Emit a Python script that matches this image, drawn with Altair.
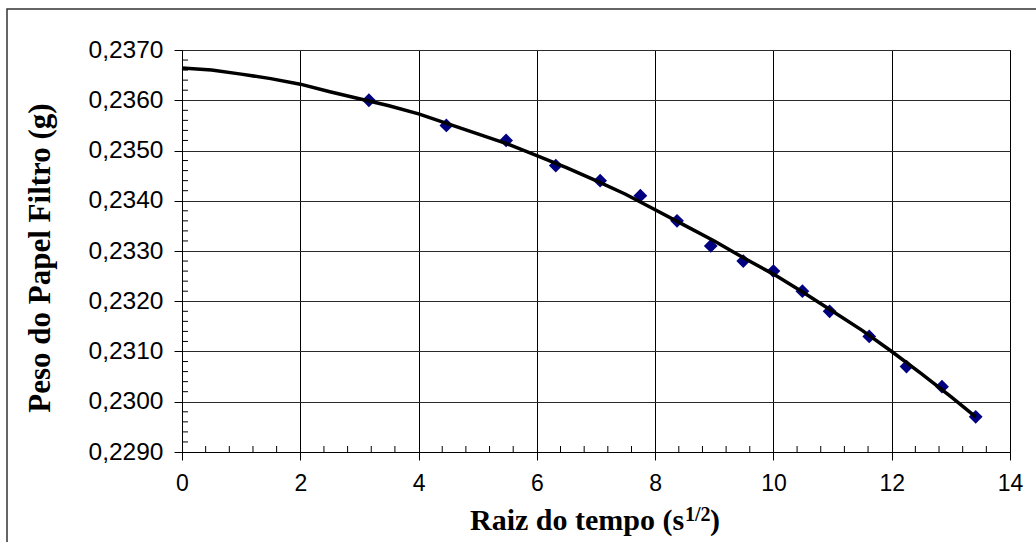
import altair as alt
import pandas as pd

# Measured filter-paper weight against square root of time
raiz_tempo = [3.16, 4.47, 5.48, 6.32, 7.07, 7.75, 8.37, 8.94, 9.49, 10.00,
              10.49, 10.95, 11.62, 12.25, 12.85, 13.42]
peso = [0.2360, 0.2355, 0.2352, 0.2347, 0.2344, 0.2341, 0.2336, 0.2331, 0.2328,
        0.2326, 0.2322, 0.2318, 0.2313, 0.2307, 0.2303, 0.2297]

# Fitted curve through the measurements
curva_x = [0, 0.5, 1, 1.5, 2, 2.5, 3, 3.5, 4, 4.5, 5, 5.5, 6, 6.5, 7, 7.5, 8,
           8.5, 9, 9.5, 10, 10.5, 11, 11.5, 12, 12.5, 13, 13.42]
curva_y = [0.23664, 0.23660, 0.23652, 0.23643, 0.23632, 0.23617, 0.23603,
           0.23589, 0.23573, 0.23553, 0.23533, 0.23513, 0.23490, 0.23466,
           0.23440, 0.23413, 0.23382, 0.23351, 0.23320, 0.23286, 0.23254,
           0.23218, 0.23180, 0.23142, 0.23100, 0.23056, 0.23010, 0.22970]

# Axis ticks
x_major = [0, 2, 4, 6, 8, 10, 12, 14]
y_major = [0.229, 0.230, 0.231, 0.232, 0.233, 0.234, 0.235, 0.236, 0.237]
x_minor = [round(i * 0.4, 1) for i in range(36) if i % 5]
y_minor = [round(0.229 + i * 0.0002, 4) for i in range(41) if i % 5]

W, H = 828, 402
LEFT, TOP = 182, 50

pontos = pd.DataFrame({"x": raiz_tempo, "y": peso})
curva = pd.DataFrame({"x": curva_x, "y": curva_y})
one = pd.DataFrame({"k": [0]})

xs = alt.Scale(domain=[0, 14], nice=False, zero=False)
ys = alt.Scale(domain=[0.229, 0.237], nice=False, zero=False)

x_axis = alt.Axis(values=x_major, title=None, grid=True, gridColor="#000000",
                  gridWidth=1, tickSize=8, tickColor="black", domainColor="black",
                  labelFont="Liberation Sans", labelFontSize=23, labelColor="black",
                  labelPadding=12, labelFlush=False, format="d")
y_axis = alt.Axis(values=y_major, title=None, grid=True, gridColor="#2a2a2a",
                  gridWidth=1, tickSize=8, tickColor="black", domainColor="black",
                  labelFont="Liberation Sans", labelFontSize=24.5, labelColor="black",
                  labelPadding=11, labelFlush=False,
                  labelExpr="replace(format(datum.value, '.4f'), '.', ',')")

# Layer carrying both axes and the grid
axes = alt.Chart(pontos).mark_point(opacity=0, size=1).encode(
    x=alt.X("x:Q", scale=xs, axis=x_axis),
    y=alt.Y("y:Q", scale=ys, axis=y_axis),
)

points = alt.Chart(pontos).mark_point(
    shape="diamond", filled=True, color="#000080", size=190, opacity=1
).encode(
    x=alt.X("x:Q", scale=xs, title=None),
    y=alt.Y("y:Q", scale=ys, title=None),
)

line = alt.Chart(curva).mark_line(color="black", strokeWidth=3.5).encode(
    x=alt.X("x:Q", scale=xs, title=None),
    y=alt.Y("y:Q", scale=ys, title=None),
)

# Inward minor ticks
x_minor_ticks = alt.Chart(pd.DataFrame({"x": x_minor})).mark_rule(
    color="black", strokeWidth=1
).encode(
    x=alt.X("x:Q", scale=xs, title=None),
    y=alt.value(H), y2=alt.value(H - 6),
)
y_minor_ticks = alt.Chart(pd.DataFrame({"y": y_minor})).mark_rule(
    color="black", strokeWidth=1
).encode(
    y=alt.Y("y:Q", scale=ys, title=None),
    x=alt.value(0), x2=alt.value(6),
)

# Axis titles
y_title = alt.Chart(one).mark_text(
    text="Peso do Papel Filtro (g)", font="Liberation Serif", fontSize=31,
    fontWeight="bold", angle=270, align="center", baseline="alphabetic",
    color="black",
).encode(x=alt.value(50 - LEFT), y=alt.value(258 - TOP))

x_title_main = alt.Chart(one).mark_text(
    text="Raiz do tempo (s", font="Liberation Serif", fontSize=30,
    fontWeight="bold", align="left", baseline="alphabetic", color="black",
).encode(x=alt.value(470 - LEFT), y=alt.value(530 - TOP))
x_title_sup = alt.Chart(one).mark_text(
    text="1/2", font="Liberation Serif", fontSize=20,
    fontWeight="bold", align="left", baseline="alphabetic", color="black",
).encode(x=alt.value(685 - LEFT), y=alt.value(521 - TOP))
x_title_close = alt.Chart(one).mark_text(
    text=")", font="Liberation Serif", fontSize=30,
    fontWeight="bold", align="left", baseline="alphabetic", color="black",
).encode(x=alt.value(710 - LEFT), y=alt.value(530 - TOP))

# Frame around the whole chart
frame = alt.Chart(one).mark_rect(
    filled=False, stroke="#333333", strokeWidth=1.5
).encode(
    x=alt.value(7 - LEFT), x2=alt.value(1036 - LEFT + 10),
    y=alt.value(9 - TOP), y2=alt.value(542 - TOP + 10),
)

chart = alt.layer(
    axes, frame, points, line, x_minor_ticks, y_minor_ticks,
    y_title, x_title_main, x_title_sup, x_title_close,
).properties(
    width=W, height=H,
    autosize=alt.AutoSizeParams(type="none"),
    padding={"left": LEFT, "top": TOP, "right": 1036 - LEFT - W, "bottom": 542 - TOP - H},
    background="white",
).configure_view(stroke="black", strokeWidth=1)

chart.save("out.html", embed_options={"renderer": "svg", "actions": False})
